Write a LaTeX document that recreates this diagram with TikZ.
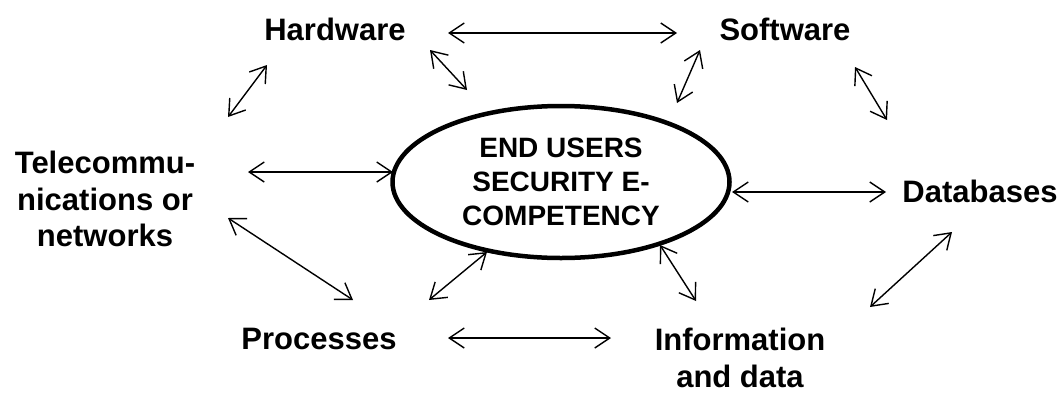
\documentclass[tikz,border=0pt]{standalone}
\usepackage{fontspec}
\setmainfont{Liberation Sans}
\usetikzlibrary{shapes.geometric,arrows.meta}
\begin{document}
\begin{tikzpicture}[x=1pt,y=-1pt,
  lbl/.style={font=\bfseries\fontsize{31}{36.5}\selectfont, align=center, inner sep=0pt},
  core/.style={ellipse, draw, line width=4.5pt, minimum width=337pt, minimum height=152pt,
     font=\bfseries\fontsize{28}{34}\selectfont, align=center, inner sep=0pt},
  link/.style={line width=1.4pt, {Straight Barb[length=15pt,width=20pt]}-{Straight Barb[length=15pt,width=20pt]}}]
\useasboundingbox (0,0) rectangle (1064,394);
\node[core] (c) at (561,182) {END USERS\\SECURITY E-\\COMPETENCY};
\node[lbl] (hw) at (335,29) {Hardware};
\node[lbl] (sw) at (785,29) {Software};
\node[lbl] (tel) at (105,199) {Telecommu-\\nications or\\networks};
\node[lbl] (db) at (980,191) {Databases};
\node[lbl] (pr) at (319,339) {Processes};
\node[lbl] (inf) at (740,358) {Information\\and data};
% arrow endpoints
\coordinate (a1) at (448,33);  \coordinate (b1) at (677,33);
\coordinate (a2) at (430,50);  \coordinate (b2) at (467,90);
\coordinate (a3) at (267,65);  \coordinate (b3) at (228,117);
\coordinate (a4) at (700,50);  \coordinate (b4) at (677,103);
\coordinate (a5) at (855,67);  \coordinate (b5) at (887,120);
\coordinate (a6) at (732,192); \coordinate (b6) at (886,192);
\coordinate (a7) at (952,232); \coordinate (b7) at (870,307);
\coordinate (a8) at (248,172); \coordinate (b8) at (393,172);
\coordinate (a9) at (228,218); \coordinate (b9) at (353,300);
\coordinate (a10) at (487,252); \coordinate (b10) at (429,300);
\coordinate (a11) at (660,245); \coordinate (b11) at (696,301);
\coordinate (a12) at (448,338); \coordinate (b12) at (611,338);
\foreach \i in {1,...,12} {\draw[link] (a\i) -- (b\i);}
\end{tikzpicture}
\end{document}
